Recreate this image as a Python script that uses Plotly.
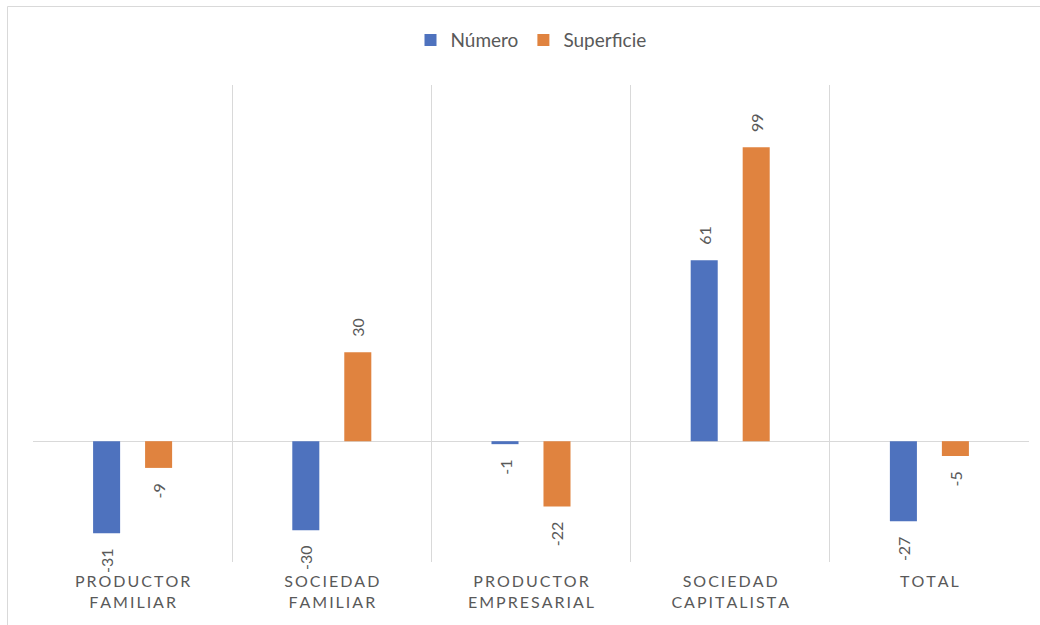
import plotly.graph_objects as go

# Variación por tipo de productor
categorias = ["PRODUCTOR<br>FAMILIAR", "SOCIEDAD<br>FAMILIAR", "PRODUCTOR<br>EMPRESARIAL",
              "SOCIEDAD<br>CAPITALISTA", "TOTAL"]
numero = [-31, -30, -1, 61, -27]
superficie = [-9, 30, -22, 99, -5]

AZUL = "#4E72BE"
NARANJA = "#E0833F"
GRIS_TEXTO = "#595959"
GRIS_LINEA = "#D9D9D9"
FUENTE = "Lato, Open Sans, sans-serif"
NBSP = "\u00a0"
THIN = "\u2009"


def espaciar(etiqueta):
    # letter-spaced uppercase labels, line by line
    return "<br>".join(THIN.join(linea) for linea in etiqueta.split("<br>"))


def rotulos(valores):
    # pad the rotated labels away from the bar end
    return [(NBSP * 3 + str(v)) if v >= 0 else (str(v) + NBSP * 3) for v in valores]


x_cat = [espaciar(c) for c in categorias]

fig = go.Figure()
for nombre, valores, color in [("Número", numero, AZUL), ("Superficie", superficie, NARANJA)]:
    fig.add_trace(go.Bar(
        name=nombre, x=x_cat, y=valores, marker_color=color, marker_line_width=0,
        text=rotulos(valores), textposition="outside", textangle=-90,
        textfont=dict(family=FUENTE, size=16, color=GRIS_TEXTO),
        constraintext="none", cliponaxis=False,
    ))

fig.update_layout(
    width=1040, height=625,
    margin=dict(l=33, r=11, t=85, b=63),
    paper_bgcolor="white", plot_bgcolor="white",
    barmode="group", bargap=0.478, bargroupgap=0.48,
    font=dict(family=FUENTE, color=GRIS_TEXTO),
    legend=dict(orientation="h", x=0.5, xanchor="center", y=1.094, yanchor="middle",
                font=dict(size=19, color=GRIS_TEXTO), itemwidth=30, traceorder="normal"),
)
fig.update_xaxes(
    type="category", tickson="boundaries", showgrid=True, gridcolor=GRIS_LINEA, gridwidth=1,
    ticks="", showline=False, zeroline=False, ticklabelstandoff=8,
    tickfont=dict(family=FUENTE, size=16, color=GRIS_TEXTO),
)
fig.update_yaxes(
    range=[-40.7, 120], showgrid=False, showticklabels=False, ticks="",
    zeroline=True, zerolinecolor=GRIS_LINEA, zerolinewidth=1, showline=False,
)

# outer chart border (left and top edges)
left_px, top_px = 7.5, 6.5
x0 = (left_px - 33) / 996
y_top = 1 + (85 - top_px) / 477
y_bot = (562 - 640) / 477
fig.add_shape(type="line", xref="paper", yref="paper", x0=x0, x1=x0, y0=y_bot, y1=y_top,
              line=dict(color=GRIS_LINEA, width=1))
fig.add_shape(type="line", xref="paper", yref="paper", x0=x0, x1=1.05, y0=y_top, y1=y_top,
              line=dict(color=GRIS_LINEA, width=1))

fig.write_html("out.html")
